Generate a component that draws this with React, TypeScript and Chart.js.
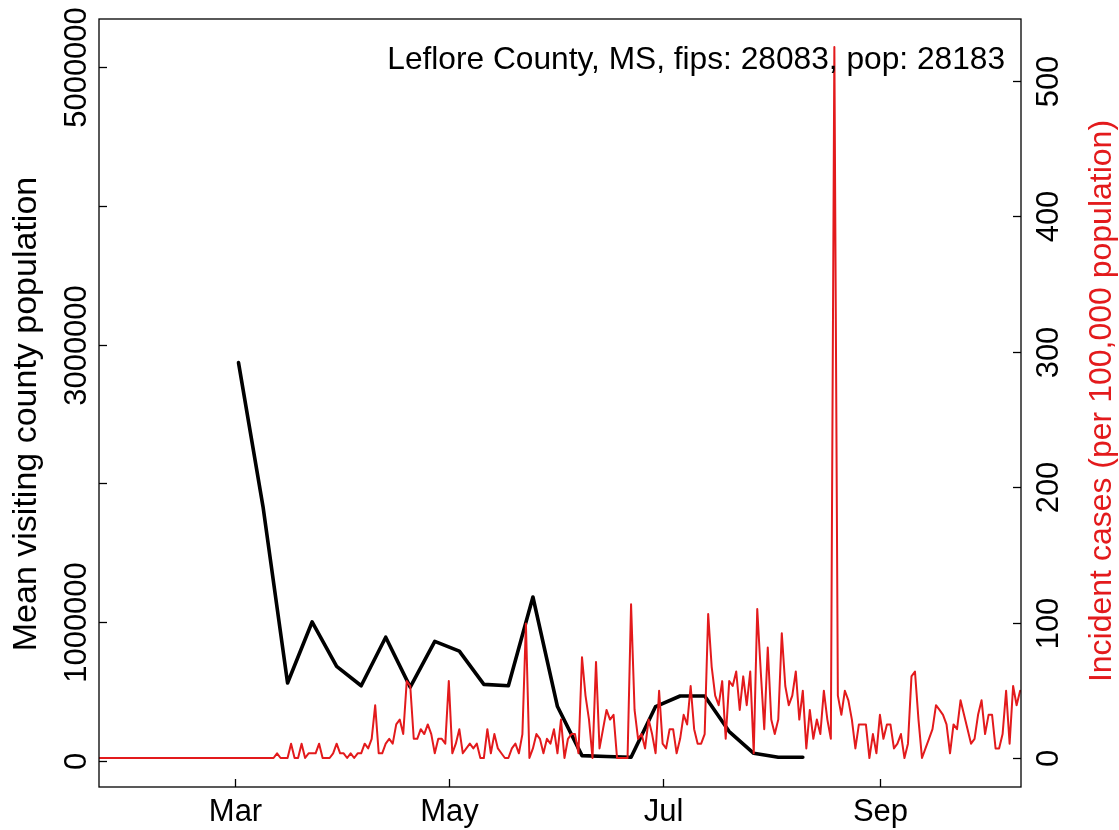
import React, { useEffect, useRef } from 'react';
import { Chart, registerables } from 'chart.js';

Chart.register(...registerables);

const W = 1119;
const H = 830;
const FAMILY = '"Liberation Sans", Arial, Helvetica, sans-serif';
const TICK_FONT = `31px ${FAMILY}`;
const NOTE_FONT = `31.7px ${FAMILY}`;
const LEFT_TITLE_FONT = `34px ${FAMILY}`;
const RIGHT_TITLE_FONT = `32px ${FAMILY}`;
const RED = '#e31a1c';

// ---- data ----
const titleText = 'Leflore County, MS, fips: 28083, pop: 28183';
const leftAxisTitle = 'Mean visiting county population';
const rightAxisTitle = 'Incident cases (per 100,000 population)';

const visitDates = [
  '2020-03-02', '2020-03-09', '2020-03-16', '2020-03-23', '2020-03-30', '2020-04-06',
  '2020-04-13', '2020-04-20', '2020-04-27', '2020-05-04', '2020-05-11', '2020-05-18',
  '2020-05-25', '2020-06-01', '2020-06-08', '2020-06-15', '2020-06-22', '2020-06-29',
  '2020-07-06', '2020-07-13', '2020-07-20', '2020-07-27', '2020-08-03', '2020-08-10',
];
const visitPopulation = [
  2870000, 1830000, 560000, 1000000, 680000, 540000,
  890000, 530000, 860000, 790000, 550000, 540000,
  1180000, 390000, 36000, 30000, 25000, 390000,
  466000, 466000, 210000, 53000, 25000, 25000,
];

const caseStartDate = '2020-01-22';
const incidentCases = [
  0, 0, 0, 0, 0, 0, 0, 0, 0, 0,
  0, 0, 0, 0, 0, 0, 0, 0, 0, 0,
  0, 0, 0, 0, 0, 0, 0, 0, 0, 0,
  0, 0, 0, 0, 0, 0, 0, 0, 0, 0,
  0, 0, 0, 0, 0, 0, 0, 0, 0, 0,
  0,
  3.5, 0, 0, 0, 10.6, 0, 0, 10.6, 0, 3.5,
  3.5, 3.5, 10.6, 0, 0, 0, 3.5, 10.6, 3.5, 3.5,
  0, 3.5, 0, 3.5, 3.5, 10.6, 7.1, 14.2, 39.0, 3.5,
  3.5, 10.6, 14.2, 10.6, 24.8, 28.4, 17.7, 56.8, 53.2, 14.2,
  14.2, 21.3, 17.7, 24.8, 17.7, 3.5, 14.2, 14.2, 10.6, 56.8,
  3.5, 10.6, 21.3, 3.5, 7.1, 10.6, 7.1, 10.6, 0, 0,
  21.3, 3.5, 17.7, 7.1, 3.5, 0, 0, 7.1, 10.6, 3.5,
  17.7, 99.3, 0, 7.1, 17.7, 14.2, 3.5, 14.2, 10.6, 21.3,
  3.5, 28.4, 0, 14.2, 17.7, 17.7, 3.5, 74.5, 46.1, 28.4,
  0, 71.0, 7.1, 21.3, 35.5, 28.4, 31.9, 0, 0, 0,
  0, 113.5, 35.5, 14.2, 17.7, 7.1, 28.4, 17.7, 3.5, 49.7,
  10.6, 7.1, 21.3, 21.3, 3.5, 14.2, 31.9, 24.8, 53.2, 21.3,
  10.6, 10.6, 17.7, 106.4, 67.4, 46.1, 39.0, 56.8, 14.2, 56.8,
  53.2, 63.9, 35.5, 60.3, 39.0, 63.9, 3.5, 110.0, 63.9, 21.3,
  81.6, 28.4, 17.7, 28.4, 92.2, 53.2, 39.0, 46.1, 63.9, 28.4,
  49.7, 7.1, 35.5, 14.2, 28.4, 17.7, 49.7, 28.4, 14.2, 525.1,
  46.1, 31.9, 49.7, 42.6, 28.4, 7.1, 24.8, 24.8, 24.8, 0,
  17.7, 3.5, 31.9, 14.2, 24.8, 24.8, 7.1, 10.6, 17.7, 0,
  10.6, 60.3, 63.9, 28.4, 0, 7.1, 14.2, 21.3, 39.0, 35.5,
  31.9, 24.8, 3.5, 24.8, 21.3, 42.6, 31.9, 21.3, 10.6, 14.2,
  31.9, 42.6, 17.7, 31.9, 31.9, 7.1, 7.1, 17.7, 49.7, 10.6,
  53.2, 39.0, 49.7,
];

const monthTickDates = ['2020-03-01', '2020-05-01', '2020-07-01', '2020-09-01'];
const monthTickLabels = ['Mar', 'May', 'Jul', 'Sep'];
const leftTicks = [0, 1000000, 2000000, 3000000, 4000000, 5000000];
const leftTickLabels = ['0', '1000000', '', '3000000', '', '5000000'];
const rightTicks = [0, 100, 200, 300, 400, 500];
const rightTickLabels = ['0', '100', '200', '300', '400', '500'];

// axis limits (day-of-year 2020, people, cases per 100k)
const xLimits = [21.2, 284.25];
const leftLimits = [-190000, 5348000];
const rightLimits = [-21.4, 545.8];

function dayOf(s: string): number {
  const [y, m, d] = s.split('-').map(Number);
  return (Date.UTC(y, m - 1, d) - Date.UTC(2020, 0, 1)) / 86400000;
}

const axesPlugin = {
  id: 'rStyleAxes',
  afterDatasetsDraw(chart: any) {
    const { ctx, chartArea: a, scales } = chart;
    const sx = scales.x;
    const sl = scales.y;
    const sr = scales.y1;
    const TL = 8;
    ctx.save();
    ctx.strokeStyle = '#000';
    ctx.lineWidth = 1.3;
    ctx.lineCap = 'butt';
    ctx.strokeRect(a.left, a.top, a.right - a.left, a.bottom - a.top);
    const seg = (x1: number, y1: number, x2: number, y2: number) => {
      ctx.beginPath();
      ctx.moveTo(x1, y1);
      ctx.lineTo(x2, y2);
      ctx.stroke();
    };
    ctx.font = TICK_FONT;
    ctx.fillStyle = '#000';
    ctx.textBaseline = 'alphabetic';
    ctx.textAlign = 'center';

    // bottom axis
    monthTickDates.forEach((d, i) => {
      const px = Math.round(sx.getPixelForValue(dayOf(d))) + 0.5;
      seg(px, a.bottom, px, a.bottom - TL);
      ctx.fillText(monthTickLabels[i], px, 821);
    });

    // left axis
    leftTicks.forEach((v, i) => {
      const py = Math.round(sl.getPixelForValue(v)) + 0.5;
      seg(a.left, py, a.left + TL, py);
      const lab = leftTickLabels[i];
      if (lab) {
        ctx.save();
        ctx.translate(86, py);
        ctx.rotate(-Math.PI / 2);
        ctx.fillText(lab, 0, 0);
        ctx.restore();
      }
    });

    // right axis
    rightTicks.forEach((v, i) => {
      const py = Math.round(sr.getPixelForValue(v)) + 0.5;
      seg(a.right, py, a.right - TL, py);
      const lab = rightTickLabels[i];
      if (lab) {
        ctx.save();
        ctx.translate(1058, py);
        ctx.rotate(-Math.PI / 2);
        ctx.fillText(lab, 0, 0);
        ctx.restore();
      }
    });

    // left title
    ctx.save();
    ctx.font = LEFT_TITLE_FONT;
    ctx.translate(36, 414);
    ctx.rotate(-Math.PI / 2);
    ctx.fillText(leftAxisTitle, 0, 0);
    ctx.restore();

    // right title
    ctx.save();
    ctx.font = RIGHT_TITLE_FONT;
    ctx.fillStyle = RED;
    ctx.translate(1111, 401);
    ctx.rotate(-Math.PI / 2);
    ctx.fillText(rightAxisTitle, 0, 0);
    ctx.restore();

    // top-right annotation
    ctx.font = NOTE_FONT;
    ctx.textAlign = 'right';
    ctx.fillText(titleText, 1005, 69);
    ctx.restore();
  },
};

export default function App() {
  const ref = useRef<HTMLCanvasElement | null>(null);

  useEffect(() => {
    const canvas = ref.current;
    if (!canvas) return;
    const start = dayOf(caseStartDate);
    const redData = incidentCases.map((v, i) => ({ x: start + i, y: v }));
    const blackData = visitDates.map((d, i) => ({ x: dayOf(d), y: visitPopulation[i] }));

    const chart = new Chart(canvas, {
      type: 'line',
      data: {
        datasets: [
          {
            label: 'Incident cases',
            data: redData,
            yAxisID: 'y1',
            borderColor: RED,
            borderWidth: 2,
            pointRadius: 0,
            tension: 0,
            borderJoinStyle: 'round',
            borderCapStyle: 'round',
            order: 0,
          },
          {
            label: 'Mean visiting county population',
            data: blackData,
            yAxisID: 'y',
            borderColor: '#000',
            borderWidth: 3.6,
            pointRadius: 0,
            tension: 0,
            borderJoinStyle: 'round',
            borderCapStyle: 'round',
            order: 1,
          },
        ],
      },
      options: {
        responsive: false,
        animation: false,
        devicePixelRatio: 1,
        layout: { padding: { left: 99, top: 19, right: W - 1021, bottom: H - 787 } },
        plugins: { legend: { display: false }, tooltip: { enabled: false }, title: { display: false } },
        scales: {
          x: { type: 'linear', display: false, min: xLimits[0], max: xLimits[1] },
          y: { type: 'linear', display: false, min: leftLimits[0], max: leftLimits[1] },
          y1: { type: 'linear', display: false, position: 'right', min: rightLimits[0], max: rightLimits[1] },
        },
      },
      plugins: [axesPlugin],
    });
    return () => chart.destroy();
  }, []);

  return (
    <div style={{ position: 'fixed', left: 0, top: 0, width: W, height: H, background: '#fff' }}>
      <canvas ref={ref} width={W} height={H} style={{ display: 'block', width: W, height: H }} />
    </div>
  );
}
